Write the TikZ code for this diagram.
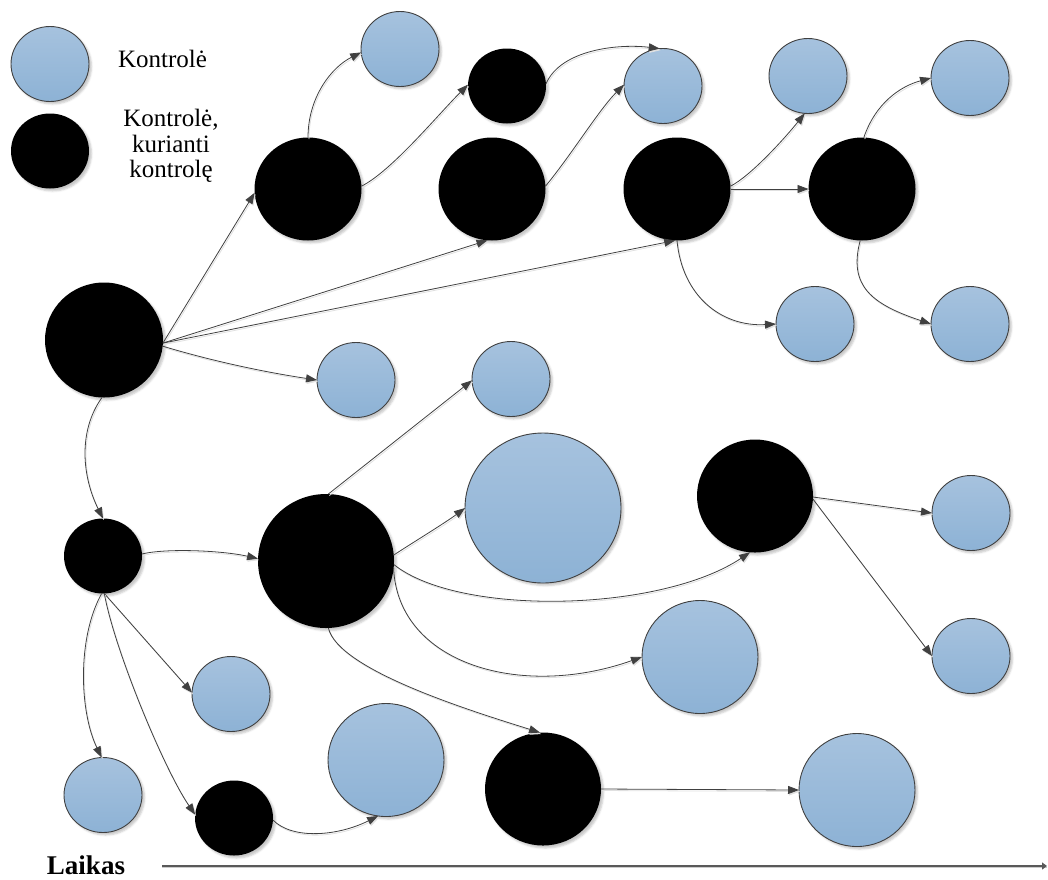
\documentclass[tikz,border=0pt]{standalone}
\usepackage{fontspec}
\setmainfont{Liberation Serif}
\usetikzlibrary{arrows.meta,shapes.geometric,shadows.blur}
\definecolor{ctrltop}{RGB}{166,194,222}
\definecolor{ctrlbot}{RGB}{141,178,213}
\definecolor{edgegray}{RGB}{64,64,64}
\newcommand{\legendfont}{\fontsize{25}{25.5}\selectfont}
\newcommand{\axisfont}{\fontsize{27}{29}\selectfont\bfseries}
\begin{document}
\begin{tikzpicture}[x=1pt,y=-1pt,
  every node/.style={inner sep=0pt,outer sep=0pt},
  soft/.style={blur shadow={shadow xshift=2.5pt,shadow yshift=-2.5pt,shadow blur steps=4,shadow opacity=22}},
  ctrl/.style={ellipse,draw=edgegray,line width=0.9pt,top color=ctrltop,bottom color=ctrlbot,soft},
  maker/.style={ellipse,fill=black,soft},
  sz/.style={minimum width=78pt,minimum height=75pt},
  mz/.style={minimum width=107pt,minimum height=103pt},
  lz/.style={minimum width=116pt,minimum height=113pt},
  link/.style={draw=edgegray,line width=0.8pt,-{Triangle[length=11pt,width=8pt]},
    preaction={draw=black!12,line width=0.8pt,transform canvas={shift={(1pt,-1.5pt)}}}},
]
\useasboundingbox (0,0) rectangle (1048,879);

% legend
\node[ctrl,sz] (L1) at (50,64) {};
\node[maker,sz] (L2) at (50,151) {};
\node[font=\legendfont,anchor=base] (t1) at (162.5,67) {Kontrolė};
\node[font=\legendfont,align=center] (t2) at (171,146) {Kontrolė,\\kurianti\\kontrolę};

% controls
\node[maker,minimum width=118pt,minimum height=115pt] (A) at (104,340) {};
\node[maker,mz] (B) at (308,189) {};
\node[ctrl,sz] (C) at (400,49) {};
\node[maker,sz] (D) at (507,86) {};
\node[ctrl,sz] (E) at (663,86) {};
\node[maker,mz] (F) at (492,189) {};
\node[ctrl,sz] (G) at (808,76) {};
\node[maker,mz] (H) at (677,189) {};
\node[maker,mz] (I) at (862,189) {};
\node[ctrl,sz] (J) at (970,78) {};
\node[ctrl,sz] (K) at (815,324) {};
\node[ctrl,sz] (M) at (970,324) {};
\node[ctrl,sz] (N) at (356,380) {};
\node[ctrl,sz] (O) at (511,379) {};
\node[maker,sz] (P) at (103,556) {};
\node[maker,minimum width=136pt,minimum height=134pt] (Q) at (326,561) {};
\node[ctrl,minimum width=156pt,minimum height=150pt] (R) at (543,508) {};
\node[maker,lz] (S) at (755,496) {};
\node[ctrl,sz] (T) at (971,513) {};
\node[ctrl,sz] (U) at (971,656) {};
\node[ctrl,lz] (V) at (700,657) {};
\node[ctrl,sz] (W) at (231,694) {};
\node[ctrl,lz] (X) at (386,760) {};
\node[maker,lz] (Y) at (543,789) {};
\node[ctrl,lz] (Z) at (857,790) {};
\node[ctrl,sz] (AA) at (103,795) {};
\node[maker,sz] (BB) at (234,818) {};

% links
\draw[link] (A.-3) -- (B.184);
\draw[link] (A.-3) -- (F.-95);
\draw[link] (A.-3) -- (H.-92);
\draw[link] (A.-6) .. controls +(60,18) and +(-40,-6) .. (N.180);
\draw[link] (A.-92) .. controls +(-25,35) and +(-20,-40) .. (P.90);
\draw[link] (B.90) .. controls +(0,-40) and +(-30,15) .. (C.185);
\draw[link] (B.3) .. controls +(30,-15) and +(-30,30) .. (D.178);
\draw[link] (D.3) .. controls +(15,-35) and +(-40,-5) .. (E.95);
\draw[link] (F.3) .. controls +(25,-30) and +(-25,25) .. (E.178);
\draw[link] (H.3) .. controls +(20,-10) and +(-20,25) .. (G.-95);
\draw[link] (H.0) -- (I.180);
\draw[link] (I.88) .. controls +(12,-35) and +(-30,8) .. (J.180);
\draw[link] (I.-92) .. controls +(-12,45) and +(-60,-20) .. (M.180);
\draw[link] (H.-90) .. controls +(5,55) and +(-55,3) .. (K.180);
\draw[link] (P.3) .. controls +(25,-6) and +(-35,-8) .. (Q.178);
\draw[link] (P.-92) .. controls +(-25,45) and +(-22,-45) .. (AA.92);
\draw[link] (P.-88) -- (W.178);
\draw[link] (P.-88) .. controls +(10,56) and +(-31,-45) .. (BB.175);
\draw[link] (BB.-3) .. controls +(20,20) and +(-40,20) .. (X.-98);
\draw[link] (Q.88) -- (O.182);
\draw[link] (Q.5) .. controls +(15,-10) and +(-20,15) .. (R.180);
\draw[link] (Q.-3) .. controls +(65,52) and +(-90,60) .. (S.-95);
\draw[link] (Q.-6) .. controls +(4,95) and +(-122,43) .. (V.180);
\draw[link] (Q.-88) .. controls +(10,42) and +(-70,-22) .. (Y.93);
\draw[link] (Y.0) -- (Z.180);
\draw[link] (S.-1) -- (T.180);
\draw[link] (S.-3) -- (U.180);

% time axis
\node[font=\axisfont,anchor=base] (ax) at (86,874) {Laikas};
\coordinate (a0) at (162,866);
\coordinate (a1) at (1047,866);
\draw[draw=black!20,line width=1pt] ([yshift=-1.5pt]a0) -- ([yshift=-1.5pt]a1);
\draw[draw=black!65,line width=1.1pt,-{Triangle[length=5pt,width=7pt]}] (a0) -- (a1);
\end{tikzpicture}
\end{document}
